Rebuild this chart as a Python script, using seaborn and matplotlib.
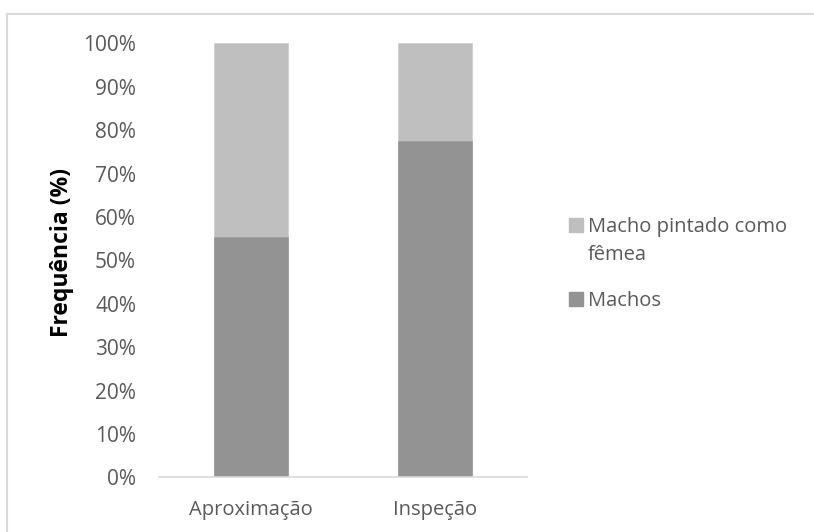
import matplotlib
matplotlib.use("Agg")
import matplotlib.pyplot as plt
import matplotlib.patches as mpatches
from matplotlib.ticker import PercentFormatter
import seaborn as sns
import pandas as pd

# Data
categories = ["Aproximação", "Inspeção"]
machos = [55.3, 77.6]
pintado_femea = [44.7, 22.4]
series_labels = ["Macho pintado como\nfêmea", "Machos"]
y_ticks = [0, 10, 20, 30, 40, 50, 60, 70, 80, 90, 100]

sns.set_theme(style="white")
plt.rcParams["font.family"] = ["Open Sans", "DejaVu Sans"]

text_color = "#595959"
color_machos = "#939393"
color_pintado = "#bfbfbf"
line_color = "#d9d9d9"
font_size = 14.5

df = pd.DataFrame({
    "categoria": categories,
    "machos": machos,
    "total": [m + p for m, p in zip(machos, pintado_femea)],
})

fig = plt.figure(figsize=(8.14, 5.32), dpi=100)
ax = fig.add_axes([0.1953, 0.1028, 0.4521, 0.8158])

# Stacked bars: full height first, lower segment drawn over it
sns.barplot(data=df, x="categoria", y="total", color=color_pintado,
            width=0.4, saturation=1, ax=ax, edgecolor="#d0d0d0", linewidth=0.6)
sns.barplot(data=df, x="categoria", y="machos", color=color_machos,
            width=0.4, saturation=1, ax=ax, edgecolor="#a0a0a0", linewidth=0.6)

ax.set_ylim(0, 100)
ax.set_xlim(-0.5, 1.5)
ax.set_yticks(y_ticks)
ax.yaxis.set_major_formatter(PercentFormatter(100, decimals=0))
ax.set_xlabel("")
ax.set_ylabel("Frequência (%)", fontsize=16.5, fontweight="bold", color="black")
ax.yaxis.set_label_coords(-0.232, 0.518)
ax.tick_params(axis="both", length=0, colors=text_color)
ax.tick_params(axis="y", pad=16.5, labelsize=15)
ax.tick_params(axis="x", pad=16, labelsize=font_size)

for side in ["top", "right", "left"]:
    ax.spines[side].set_visible(False)
ax.spines["bottom"].set_color(line_color)
ax.spines["bottom"].set_linewidth(1.2)

# Legend: swatch aligned with the first line of each entry
legend_entries = [
    (series_labels[0], color_pintado, 225),
    (series_labels[1], color_machos, 299),
]
W, H = 814, 532
for label, color, yc in legend_entries:
    fig.add_artist(mpatches.Rectangle((569 / W, 1 - (yc + 7) / H), 14 / W, 14 / H,
                                      transform=fig.transFigure, color=color))
    fig.text(588 / W, 1 - (yc - 8) / H, label, transform=fig.transFigure,
             ha="left", va="top", fontsize=font_size, color=text_color,
             linespacing=1.55)

# Chart area border
fig.add_artist(plt.Line2D([0.009, 1.0], [0.974, 0.974], color=line_color, lw=1.5,
                          transform=fig.transFigure))
fig.add_artist(plt.Line2D([0.009, 0.009], [0.0, 0.974], color=line_color, lw=1.5,
                          transform=fig.transFigure))

fig.savefig("out.png", dpi=100, facecolor="white")
